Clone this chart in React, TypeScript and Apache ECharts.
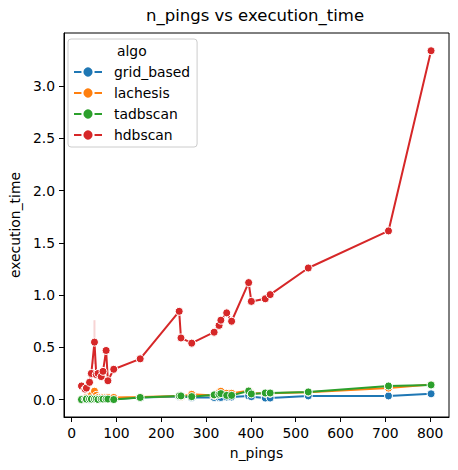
import React, { useEffect, useRef } from "react";
import * as echarts from "echarts";

const nPings = [22, 30, 33, 40, 44, 51, 55, 59, 66, 70, 77, 81, 94, 153, 240, 244, 268, 318, 329, 333, 346, 357, 395, 401, 432, 443, 528, 707, 802];

const gridBased = [0.0, 0.0, 0.005, 0.0, 0.005, 0.01, 0.005, 0.005, 0.005, 0.01, 0.01, 0.005, 0.005, 0.02, 0.03, 0.03, 0.02, 0.02, 0.02, 0.02, 0.025, 0.025, 0.035, 0.028, 0.015, 0.015, 0.035, 0.035, 0.055];
const lachesis = [0.0, 0.01, 0.02, 0.03, 0.04, 0.08, 0.04, 0.02, 0.02, 0.02, 0.02, 0.02, 0.02, 0.025, 0.035, 0.03, 0.05, 0.04, 0.07, 0.08, 0.06, 0.06, 0.085, 0.06, 0.06, 0.06, 0.07, 0.11, 0.145];
const tadbscan = [0.0, 0.005, 0.005, 0.005, 0.005, 0.005, 0.005, 0.0, 0.005, 0.005, 0.005, 0.005, 0.0, 0.02, 0.035, 0.035, 0.028, 0.045, 0.05, 0.057, 0.04, 0.04, 0.082, 0.054, 0.063, 0.063, 0.073, 0.13, 0.14];
const hdbscan = [0.13, 0.10, 0.11, 0.165, 0.25, 0.55, 0.24, 0.25, 0.22, 0.27, 0.47, 0.18, 0.29, 0.39, 0.845, 0.59, 0.54, 0.645, 0.71, 0.76, 0.83, 0.75, 1.12, 0.94, 0.965, 1.005, 1.26, 1.615, 3.34];

// confidence band at the one repeated n_pings value (hdbscan)
const ciX = [51, 51];
const ciY = [0.34, 0.76];

const seriesNames = ["grid_based", "lachesis", "tadbscan", "hdbscan"];
const seriesValues = [gridBased, lachesis, tadbscan, hdbscan];
const colors = ["#1f77b4", "#ff7f0e", "#2ca02c", "#d62728"];

const xTicks = [0, 100, 200, 300, 400, 500, 600, 700, 800];
const yTicks = [0, 0.5, 1.0, 1.5, 2.0, 2.5, 3.0];

const FONT = "DejaVu Sans";

export default function App() {
  const ref = useRef<HTMLDivElement>(null);
  useEffect(() => {
    if (!ref.current) return;
    const chart = echarts.init(ref.current, null, { renderer: "svg" });
    const series: any[] = seriesNames.map((name, i) => ({
      name,
      type: "line",
      data: nPings.map((x, j) => [x, seriesValues[i][j]]),
      symbol: "circle",
      symbolSize: 8,
      showSymbol: true,
      lineStyle: { color: colors[i], width: 2 },
      itemStyle: { color: colors[i], borderColor: "#ffffff", borderWidth: 1 },
      z: 2 + i,
    }));
    series.push({
      name: "hdbscan_ci",
      type: "line",
      data: ciX.map((x, j) => [x, ciY[j]]),
      symbol: "none",
      lineStyle: { color: "rgba(214,39,40,0.2)", width: 2 },
      silent: true,
      z: 1,
    });
    chart.setOption({
      animation: false,
      textStyle: { fontFamily: FONT },
      title: {
        text: "n_pings vs execution_time",
        left: 255,
        top: 7,
        textAlign: "center",
        padding: 0,
        textStyle: { fontFamily: FONT, fontSize: 16.5, fontWeight: "normal", color: "#000" },
      },
      grid: {
        left: 61.5,
        right: 9,
        top: 33,
        bottom: 53,
        show: true,
        borderColor: "#000",
        borderWidth: 1,
        backgroundColor: "transparent",
      },
      legend: {
        data: seriesNames,
        orient: "vertical",
        left: 68,
        top: 39,
        padding: [26, 7, 5, 5],
        itemGap: 7,
        itemWidth: 28,
        itemHeight: 14,
        borderColor: "#cccccc",
        borderWidth: 1,
        borderRadius: 3,
        backgroundColor: "rgba(255,255,255,0.8)",
        textStyle: { fontFamily: FONT, fontSize: 13.9, color: "#000", lineHeight: 14, padding: [0, 0, 0, 7] },
      },
      graphic: [
        {
          type: "text",
          left: 117,
          top: 44,
          z: 100,
          style: { text: "algo", fontFamily: FONT, fontSize: 13.9, fill: "#000" },
        },
      ],
      xAxis: {
        type: "value",
        min: -17,
        max: 842,
        name: "n_pings",
        nameLocation: "middle",
        nameGap: 29,
        nameTextStyle: { fontFamily: FONT, fontSize: 13.9, color: "#000" },
        splitLine: { show: false },
        axisLine: { show: true, onZero: false, lineStyle: { color: "#000", width: 1 } },
        axisTick: { show: true, length: 5, lineStyle: { color: "#000" }, customValues: xTicks },
        axisLabel: { fontFamily: FONT, fontSize: 13.9, color: "#000", margin: 9, customValues: xTicks },
      },
      yAxis: {
        type: "value",
        min: -0.167,
        max: 3.51,
        name: "execution_time",
        nameLocation: "middle",
        nameGap: 38,
        nameTextStyle: { fontFamily: FONT, fontSize: 13.9, color: "#000" },
        splitLine: { show: false },
        axisLine: { show: true, onZero: false, lineStyle: { color: "#000", width: 1 } },
        axisTick: { show: true, length: 5, lineStyle: { color: "#000" }, customValues: yTicks },
        axisLabel: {
          fontFamily: FONT,
          fontSize: 13.9,
          color: "#000",
          margin: 9,
          customValues: yTicks,
          formatter: (v: number) => v.toFixed(1),
        },
      },
      series,
    });
    return () => chart.dispose();
  }, []);
  return (
    <div
      ref={ref}
      style={{ position: "absolute", left: 0, top: 0, width: 458, height: 470, background: "#fff" }}
    />
  );
}
